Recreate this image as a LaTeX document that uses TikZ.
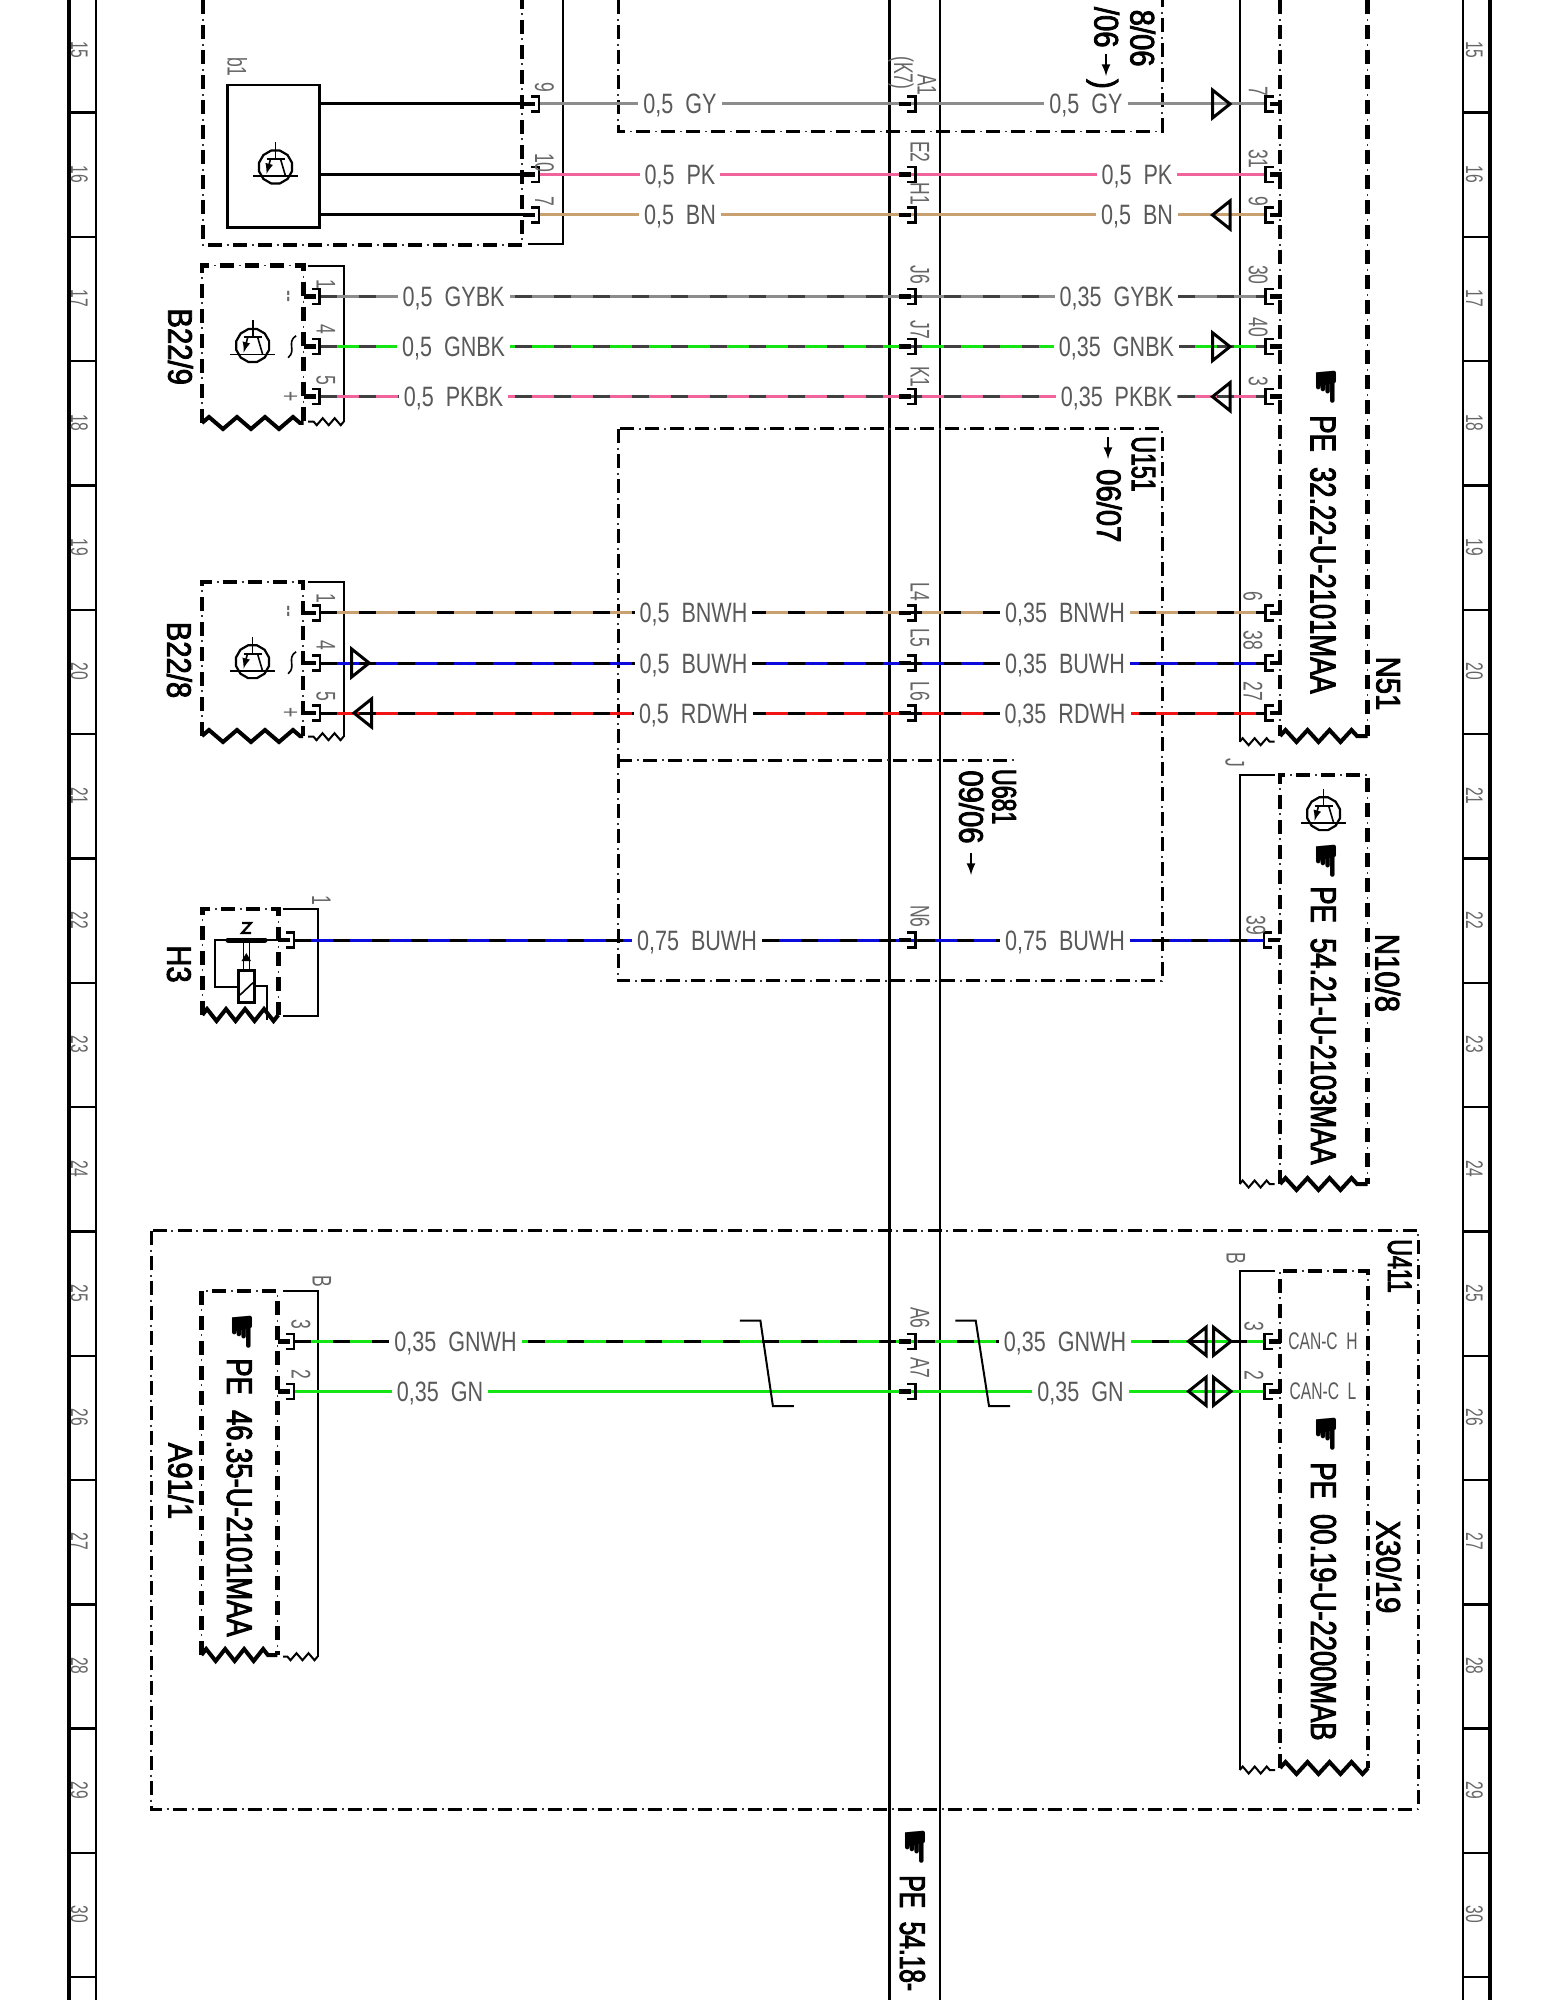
\documentclass[tikz,border=0pt]{standalone}
\usepackage{fontspec}
\usetikzlibrary{decorations.pathmorphing}
\newfontfamily\wirefont[FakeStretch=.77]{Liberation Sans}
\newfontfamily\pinfont[FakeStretch=.65]{Liberation Sans}
\newfontfamily\tagfont[FakeStretch=.86,FakeBold=2.5]{Liberation Sans}
\newfontfamily\condfont[FakeStretch=.68,FakeBold=2.5]{Liberation Sans}
\newfontfamily\reffont[FakeStretch=.76,FakeBold=2.5]{Liberation Sans}
\newfontfamily\handfont{DejaVu Sans}
\definecolor{cgy}{HTML}{8C8C8C}
\definecolor{cpk}{HTML}{F0649B}
\definecolor{cbn}{HTML}{C9A070}
\definecolor{cgn}{HTML}{14E614}
\definecolor{cbu}{HTML}{0A0ADC}
\definecolor{crd}{HTML}{F01414}
\definecolor{cdk}{HTML}{404040}
\tikzset{
    wire/.style = {draw=#1, line width=1.5pt},
    wirebk/.style = {draw=#1, line width=1.5pt, postaction={draw=cdk, dash pattern=on 8.5pt off 11pt}},
    wirewh/.style = {draw=#1, line width=1.5pt, postaction={draw=black, dash pattern=on 8.5pt off 11pt}},
    dashdot/.style = {line width=#1, dash pattern=on 7pt off 5.5pt,
        postaction={draw, line width=.8pt, black!80, dash pattern=on 1pt off 11.5pt, dash phase=3.1pt}},
    modbox/.style = {dashdot=2.2pt},
    ubox/.style = {dashdot=1.5pt},
    zigthick/.style = {line width=2pt, decorate, decoration={zigzag, amplitude=3pt, segment length=#1}},
    zigthin/.style = {line width=1pt, decorate, decoration={zigzag, amplitude=1.75pt, segment length=6pt}},
    thinline/.style = {line width=1pt},
    wirelab/.style = {font=\wirefont\fontsize{14}{14}\selectfont, text=black!65, fill=white,
        inner xsep=2.5pt, inner ysep=2pt, text height=10pt, text depth=0pt},
    pinnum/.style = {rotate=-90, font=\pinfont\fontsize{13.5}{13.5}\selectfont, text=black!60,
        inner sep=0pt, text height=9.5pt, text depth=0pt},
    railnum/.style = {rotate=-90, font=\pinfont\fontsize{12}{12}\selectfont, text=black!60,
        inner sep=0pt, text height=8.5pt, text depth=0pt},
    comptag/.style = {rotate=-90, font=\tagfont\fontsize{17}{17}\selectfont,
        inner sep=0pt, text height=12.5pt, text depth=0pt},
    ucomptag/.style = {rotate=-90, font=\condfont\fontsize{17}{17}\selectfont,
        inner sep=0pt, text height=12.5pt, text depth=0pt},
    reftext/.style = {rotate=-90, anchor=west, font=\reffont\fontsize{18}{18}\selectfont,
        inner sep=0pt, text height=13pt, text depth=0pt},
    handmark/.style = {rotate=-90, font=\handfont\fontsize{22}{22}\selectfont, inner sep=0pt},
    canlab/.style = {font=\pinfont\fontsize{12}{12}\selectfont, text=black!65, inner sep=0pt,
        text height=8.5pt, text depth=0pt},
    pinl/.pic = {
        \draw [line width=1.3pt] (-8, -7.5) -- (0, -7.5) -- (0, 7.5) -- (-8, 7.5);
        \draw [line width=2.2pt] (-16, 0) -- (-4, 0);
    },
    pinr/.pic = {
        \draw [line width=1.3pt] (8, -7.5) -- (0, -7.5) -- (0, 7.5) -- (8, 7.5);
        \draw [line width=2.2pt] (4, 0) -- (16, 0);
    },
    trir/.pic = {
        \draw [line width=1.5pt] (0, 0) -- (-17.5, -14) -- (-17.5, 14) -- cycle;
    },
    tril/.pic = {
        \draw [line width=1.5pt] (0, 0) -- (17.5, -14) -- (17.5, 14) -- cycle;
    },
    hallsym/.pic = {
        \draw [line width=1.1pt] plot [samples=12, domain=15:345] (\x:17) -- cycle;
        \draw [line width=.8pt] (-22.5, 9) -- (22.5, 9);
        \draw [line width=.8pt] (0, -25) -- (0, -8);
        \draw [line width=1pt] (-9, -8) -- (9, -8);
        \draw [line width=.8pt] (5, -8) -- (10, 9);
        \draw [line width=.8pt, -latex] (-5, -8) -- (-9, 7);
    },
}
\begin{document}
\begin{tikzpicture}[x=.5pt, y=-.5pt]
    \useasboundingbox (0, 0) rectangle (1545, 2000);
    \clip (0, 0) rectangle (1545, 2000);
    % margin rails
    \draw [line width=1.8pt] (69, 0) -- (69, 2000);
    \draw [line width=1pt] (96, 0) -- (96, 2000);
    \draw [line width=1pt] (1462.7, 0) -- (1462.7, 2000);
    \draw [line width=1.8pt] (1490, 0) -- (1490, 2000);
    \foreach \n in {15,...,30} {
        \draw [line width=1.2pt] (69, {112.7 + 124.3*(\n - 15)}) -- (96, {112.7 + 124.3*(\n - 15)});
        \draw [line width=1.2pt] (1462.7, {112.7 + 124.3*(\n - 15)}) -- (1490, {112.7 + 124.3*(\n - 15)});
        \node [railnum] (raill\n) at (79.5, {50 + 124.3*(\n - 15)}) {\n};
        \node [railnum] (railr\n) at (1474.6, {50 + 124.3*(\n - 15)}) {\n};
    }
    % bus lines
    \draw [line width=1.5pt] (889.3, 0) -- (889.3, 2000);
    \draw [line width=1pt] (940, 0) -- (940, 2000);
    % dash-dot boxes
    \draw [ubox] (618, 0) -- (618, 131.7) -- (1162, 131.7) -- (1162, 0);
    \draw [ubox] (618, 429) rectangle (1162, 980.7);
    \draw [ubox] (618, 760) -- (1016.8, 760);
    \draw [ubox] (151, 1230.7) rectangle (1418, 1809);
    % module b1
    \draw [modbox] (203, 0) -- (203, 245) -- (522, 245) -- (522, 0);
    \draw [thinline] (528, 243.7) -- (562.5, 243.7) -- (562.5, 0);
    \node [draw, line width=1.3pt, minimum width=46pt, minimum height=71.3pt, inner sep=0pt] (b1box) at (273.6, 156.3) {};
    \pic at (275.5, 167) {hallsym};
    \node [pinnum] (b1tag) at (237, 67) {b1};
    % module B22/9
    \draw [modbox] (202, 423) -- (202, 265.7) -- (303.6, 265.7) -- (303.6, 423);
    \draw [zigthick=14pt] (202, 423) -- (303.6, 423);
    \draw [thinline] (308, 265.7) -- (343.7, 265.7) -- (343.7, 421.7);
    \draw [zigthin] (343.7, 421.7) -- (308, 421.7);
    \pic at (252.7, 345.5) {hallsym};
    \node [comptag] (b229) at (180.8, 346.7) {B22/9};
    % module B22/8
    \draw [modbox] (202, 736) -- (202, 581.7) -- (303, 581.7) -- (303, 736);
    \draw [zigthick=14pt] (202, 736) -- (303, 736);
    \draw [thinline] (308, 582.3) -- (343.5, 582.3) -- (343.5, 736.7);
    \draw [zigthin] (343.5, 736.7) -- (308, 736.7);
    \pic at (252.5, 661.7) {hallsym};
    \node [comptag] (b228) at (179.7, 660) {B22/8};
    % polarity marks
    \foreach \y/\m in {296.7/a,611/b} {
        \node [pinnum] (minus\m) at (290.5, \y) {--};
    }
    \foreach \y/\m in {396.7/a,713/b} {
        \node [pinnum] (plus\m) at (291, \y) {+};
    }
    \foreach \y in {346.7, 662.7} {
        \draw [line width=.8pt] (296, {\y - 11}) .. controls (286, {\y - 4}) and (297, {\y + 4}) .. (288, {\y + 11});
    }
    % module H3
    \draw [modbox] (202.3, 1015) -- (202.3, 909) -- (278.3, 909) -- (278.3, 1015);
    \draw [zigthick=9.5pt] (202.3, 1015) -- (278.3, 1015);
    \draw [thinline] (282.7, 909) -- (318.3, 909) -- (318.3, 1015.7) -- (282.7, 1015.7);
    \node [comptag] (h3tag) at (179.7, 964) {H3};
    \draw [line width=1pt] (278, 940) -- (215, 940) -- (215, 986.7) -- (238.3, 986.7);
    \draw [line width=2.5pt, line cap=round] (228, 940) -- (265, 940);
    \node [draw, line width=1.3pt, minimum width=8pt, minimum height=15.8pt, inner sep=0pt] (h3coil) at (246.3, 986.5) {};
    \draw [line width=.8pt] (240, 995) -- (253, 982.7);
    \draw [line width=1pt] (254.3, 986) -- (267.3, 986) -- (267.3, 1020);
    \draw [line width=.8pt] (243.3, 940) -- (243.3, 970.7);
    \draw [line width=.8pt] (249.3, 940) -- (249.3, 970.7);
    \fill (246.3, 953) -- (241.5, 961) -- (251, 961) -- cycle;
    \draw [line width=1.1pt] (242, 923) -- (251, 923) -- (242, 933) -- (251, 933);
    % module N51
    \draw [modbox] (1280, 0) -- (1280, 736);
    \draw [modbox] (1367.6, 0) -- (1367.6, 736);
    \draw [zigthick=11pt] (1280, 736) -- (1367.6, 736);
    \draw [thinline] (1239.6, 0) -- (1239.6, 741.7);
    \draw [zigthin] (1239.6, 741.7) -- (1274.6, 741.7);
    \node [comptag] (n51tag) at (1389, 683.5) {N51};
    \node [handmark] (n51hand) at (1323.6, 387) {☛};
    \node [reftext] (n51ref) at (1323.6, 415) {PE~~32.22-U-2101MAA};
    % module N10/8
    \draw [modbox] (1280, 1184) -- (1280, 775) -- (1367.6, 775) -- (1367.6, 1184);
    \draw [zigthick=11pt] (1280, 1184) -- (1367.6, 1184);
    \draw [thinline] (1274.6, 775) -- (1239.6, 775) -- (1239.6, 1184);
    \draw [zigthin] (1239.6, 1184) -- (1274.6, 1184);
    \pic at (1323.6, 813.7) {hallsym};
    \node [pinnum] (jtag) at (1235, 763) {J};
    \node [comptag] (n108) at (1388, 973) {N10/8};
    \node [handmark] (n108hand) at (1324, 861.7) {☛};
    \node [reftext] (n108ref) at (1324, 886) {PE~~54.21-U-2103MAA};
    % module A91/1
    \draw [modbox] (201.4, 1655) -- (201.4, 1291) -- (277.3, 1291) -- (277.3, 1655);
    \draw [zigthick=9.5pt] (201.4, 1655) -- (277.3, 1655);
    \draw [thinline] (283, 1291) -- (317.5, 1291) -- (317.5, 1656.7);
    \draw [zigthin] (317.5, 1656.7) -- (283, 1656.7);
    \node [pinnum] (btagl) at (322, 1281) {B};
    \node [comptag] (a911) at (181, 1481) {A91/1};
    \node [handmark] (a91hand) at (240.5, 1332) {☛};
    \node [reftext] (a91ref) at (240, 1358) {PE~~46.35-U-2101MAA};
    % module X30/19
    \draw [modbox] (1280, 1768) -- (1280, 1270.8) -- (1368, 1270.8) -- (1368, 1768);
    \draw [zigthick=11pt] (1280, 1768) -- (1368, 1768);
    \draw [thinline] (1275, 1271) -- (1239.7, 1271) -- (1239.7, 1770);
    \draw [zigthin] (1239.7, 1770) -- (1275, 1770);
    \node [pinnum] (btagr) at (1236, 1258.5) {B};
    \node [canlab] (canh) at (1323, 1341.3) {CAN-C~~H};
    \node [canlab] (canl) at (1323, 1391.3) {CAN-C~~L};
    \node [handmark] (x30hand) at (1324, 1434) {☛};
    \node [reftext] (x30ref) at (1324, 1462) {PE~~00.19-U-2200MAB};
    \node [comptag] (x3019) at (1389, 1567) {X30/19};
    % bus reference
    \node [handmark] (bushand) at (912.5, 1847) {☛};
    \node [reftext, font=\condfont\fontsize{18}{18}\selectfont] (busref) at (913, 1875) {PE~~54.18-};
    % box labels
    \node [ucomptag] (u151) at (1144.3, 464) {U151};
    \node [comptag] (u151a) at (1109.5, 505.8) {06/07};
    \coordinate (u151s) at (1108, 437);
    \coordinate (u151e) at (1108, 459);
    \draw [line width=1pt, -latex] (u151s) -- (u151e);
    \node [ucomptag] (u681) at (1005, 796.7) {U681};
    \node [comptag] (u681a) at (971.8, 807) {09/06};
    \coordinate (u681s) at (971, 853);
    \coordinate (u681e) at (971, 875);
    \draw [line width=1pt, -latex] (u681s) -- (u681e);
    \node [ucomptag] (u411) at (1400.5, 1266) {U411};
    \node [comptag, anchor=east] (topa) at (1143, 67) {8/06};
    \node [comptag, anchor=east] (topb) at (1107, 48) {/06};
    \coordinate (tops) at (1106, 54);
    \coordinate (tope) at (1106, 76);
    \draw [line width=1pt, -latex] (tops) -- (tope);
    \node [comptag] (topc) at (1106, 84) {)};
    % pin coordinates
    \foreach \m/\y in {g/104,p/174.7,n/215} {
        \coordinate (b1\m) at (539, \y);
        \coordinate (b1s\m) at (525, \y);
        \draw [line width=1.5pt] (b1box.east |- b1\m) -- (b1s\m);
    }
    \coordinate (ba) at (319.6, 296.7);
    \coordinate (bb) at (319.6, 346.7);
    \coordinate (bc) at (319.6, 396.7);
    \coordinate (ca) at (320, 612.7);
    \coordinate (cb) at (320, 663);
    \coordinate (cc) at (320, 713);
    \coordinate (h3p) at (294, 940);
    \coordinate (da) at (294, 1341.3);
    \coordinate (db) at (294, 1391.3);
    \foreach \r/\y in {1/104,2/174.7,3/215,4/296.7,5/346.7,6/396.7,7/612.7,8/663,9/713,10/940,11/1341.3,12/1391.3} {
        \coordinate (m\r) at (915.4, \y);
    }
    \foreach \r/\y in {1/104,2/174.7,3/215,4/296.7,5/346.7,6/396.7,7/612.7,8/663,9/713} {
        \coordinate (n\r) at (1265.5, \y);
    }
    \coordinate (n10) at (1264, 940);
    \coordinate (n11) at (1264.6, 1341.3);
    \coordinate (n12) at (1264.6, 1391.3);
    % wires
    \draw [wire=cgy] (b1g) -- (m1) -- (n1);
    \draw [wire=cpk] (b1p) -- (m2) -- (n2);
    \draw [wire=cbn] (b1n) -- (m3) -- (n3);
    \draw [wirebk=cgy] (ba) -- (m4) -- (n4);
    \draw [wirebk=cgn] (bb) -- (m5) -- (n5);
    \draw [wirebk=cpk] (bc) -- (m6) -- (n6);
    \draw [wirewh=cbn] (ca) -- (m7) -- (n7);
    \draw [wirewh=cbu] (cb) -- (m8) -- (n8);
    \draw [wirewh=crd] (cc) -- (m9) -- (n9);
    \draw [wirewh=cbu] (h3p) -- (m10) -- (n10);
    \draw [wirewh=cgn] (da) -- (m11) -- (n11);
    \draw [wire=cgn] (db) -- (m12) -- (n12);
    % wire labels
    \node [wirelab] (l1a) at (680, 104) {0,5~~GY};
    \node [wirelab] (l1b) at (1086, 104) {0,5~~GY};
    \node [wirelab] (l2a) at (680, 174.7) {0,5~~PK};
    \node [wirelab] (l2b) at (1137, 174.7) {0,5~~PK};
    \node [wirelab] (l3a) at (680, 215) {0,5~~BN};
    \node [wirelab] (l3b) at (1137, 215) {0,5~~BN};
    \node [wirelab] (l4a) at (453.6, 296.7) {0,5~~GYBK};
    \node [wirelab] (l4b) at (1116.5, 296.7) {0,35~~GYBK};
    \node [wirelab] (l5a) at (453.6, 346.7) {0,5~~GNBK};
    \node [wirelab] (l5b) at (1116.5, 346.7) {0,35~~GNBK};
    \node [wirelab] (l6a) at (453.6, 396.7) {0,5~~PKBK};
    \node [wirelab] (l6b) at (1116.5, 396.7) {0,35~~PKBK};
    \node [wirelab] (l7a) at (693.5, 612.7) {0,5~~BNWH};
    \node [wirelab] (l7b) at (1065, 612.7) {0,35~~BNWH};
    \node [wirelab] (l8a) at (693.5, 663) {0,5~~BUWH};
    \node [wirelab] (l8b) at (1065, 663) {0,35~~BUWH};
    \node [wirelab] (l9a) at (693.5, 713) {0,5~~RDWH};
    \node [wirelab] (l9b) at (1065, 713) {0,35~~RDWH};
    \node [wirelab] (l10a) at (697, 940) {0,75~~BUWH};
    \node [wirelab] (l10b) at (1065, 940) {0,75~~BUWH};
    \node [wirelab] (l11a) at (455.5, 1341.3) {0,35~~GNWH};
    \node [wirelab] (l11b) at (1065, 1341.3) {0,35~~GNWH};
    \node [wirelab] (l12a) at (440, 1391.3) {0,35~~GN};
    \node [wirelab] (l12b) at (1080.5, 1391.3) {0,35~~GN};
    % pins
    \foreach \p in {b1g,b1p,b1n,ba,bb,bc,ca,cb,cc,h3p,da,db,m1,m2,m3,m4,m5,m6,m7,m8,m9,m10,m11,m12} {
        \pic at (\p) {pinl};
    }
    \foreach \p in {n1,n2,n3,n4,n5,n6,n7,n8,n9,n10,n11,n12} {
        \pic at (\p) {pinr};
    }
    % pin numbers
    \foreach \s/\x/\y/\m in {9/544.6/87/a,10/544.6/163/b,7/544.6/201/c,
        1/326/284/d,4/326/329/e,5/326/380/f,1/326/598/g,4/326/645/h,5/326/696/i,1/321.7/900/j,
        3/301/1324/k,2/301/1374/l,
        7/1258.4/91/m,31/1258.4/159/n,9/1258.4/201.7/o,30/1258.4/275/p,40/1258.4/327.5/q,3/1258.4/381/r,
        6/1253/596.7/s,38/1253/640/t,27/1253/691.7/u,39/1256/925/v,3/1254/1326/w,2/1254/1375/x} {
        \node [pinnum] (num\m) at (\x, \y) {\s};
    }
    \foreach \s/\y in {E2/152,H1/194,J6/275,J7/330,K1/377,L4/592,L5/638,L6/691,N6/916.5,A6/1318,A7/1368} {
        \node [pinnum] (mid\s) at (920, \y) {\s};
    }
    \node [pinnum] (midA1) at (927, 85) {A1};
    \node [pinnum] (midK7) at (903.6, 73) {(K7)};
    % direction marks
    \pic at (1230, 104) {trir};
    \pic at (1212.5, 215) {tril};
    \pic at (1230, 346.7) {trir};
    \pic at (1212.5, 396.7) {tril};
    \pic at (369.2, 663) {trir};
    \pic at (354, 713) {tril};
    \pic at (1188.5, 1341.3) {tril};
    \pic at (1231, 1341.3) {trir};
    \pic at (1188.5, 1391.3) {tril};
    \pic at (1231, 1391.3) {trir};
    % twist marks
    \draw [line width=1pt] (739.8, 1320.7) -- (760.4, 1320.7) -- (772.9, 1406) -- (793.8, 1406);
    \draw [line width=1pt] (955.4, 1320.5) -- (975.7, 1320.5) -- (989, 1406) -- (1010, 1406);
\end{tikzpicture}
\end{document}
